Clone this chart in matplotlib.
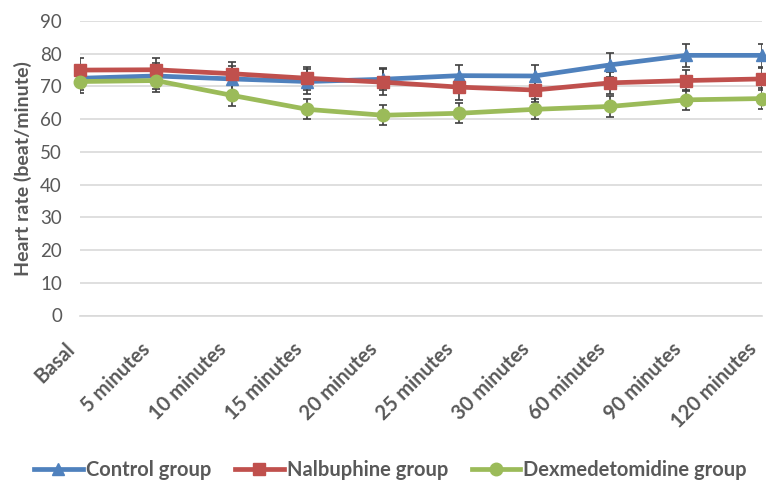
import matplotlib
matplotlib.use("Agg")
import matplotlib.pyplot as plt

# Data
time_points = ["Basal", "5 minutes", "10 minutes", "15 minutes", "20 minutes",
               "25 minutes", "30 minutes", "60 minutes", "90 minutes", "120 minutes"]
control_mean = [72.5, 73.2, 72.3, 71.5, 72.2, 73.3, 73.2, 76.6, 79.5, 79.5]
control_sd = [3.6, 3.9, 3.9, 3.8, 3.4, 3.4, 3.5, 3.6, 3.6, 3.6]
nalbuphine_mean = [75.0, 75.1, 73.9, 72.5, 71.3, 69.8, 68.9, 71.1, 71.8, 72.3]
nalbuphine_sd = [3.8, 3.7, 3.5, 3.5, 3.9, 3.8, 3.6, 3.4, 3.3, 3.3]
dexmed_mean = [71.5, 71.8, 67.3, 63.0, 61.2, 61.8, 63.0, 63.9, 65.9, 66.3]
dexmed_sd = [3.4, 3.4, 3.3, 3.1, 3.0, 3.0, 3.1, 3.1, 3.1, 3.2]

series = [
    ("Control group", control_mean, control_sd, "#4F81BD", "^"),
    ("Nalbuphine group", nalbuphine_mean, nalbuphine_sd, "#C0504D", "s"),
    ("Dexmedetomidine group", dexmed_mean, dexmed_sd, "#9BBB59", "o"),
]

text_color = "#595959"
plt.rcParams["font.family"] = ["Lato", "DejaVu Sans"]

fig = plt.figure(figsize=(7.66, 4.83), dpi=100)
ax = fig.add_axes([80 / 766, 1 - 315.5 / 483, 682 / 766, 294.5 / 483])

x = list(range(len(time_points)))
handles = []
for name, mean, sd, color, marker in series:
    ax.errorbar(x, mean, yerr=sd, fmt="none", ecolor="#404040", elinewidth=1.2,
                capsize=3.2, capthick=1.2, zorder=2)
    line, = ax.plot(x, mean, color=color, linewidth=3.4, marker=marker,
                    markersize=9, label=name, zorder=3, clip_on=False)
    handles.append(line)

ax.set_xlim(0, len(time_points) - 1)
ax.set_ylim(0, 90)
ax.set_yticks(range(0, 91, 10))
ax.set_xticks(x)
ax.set_xticklabels([])
# rotated category labels, anchored at their right end just below each tick
for i, name in zip(x, time_points):
    ax.annotate(name, xy=(i, 0), xycoords=("data", "axes fraction"),
                xytext=(-6, -22), textcoords="offset points",
                rotation=45, ha="right", va="center", rotation_mode="anchor",
                fontsize=14.5, fontweight="bold", color=text_color,
                annotation_clip=False)
ax.tick_params(axis="x", length=0)
ax.tick_params(axis="y", length=0, pad=13, labelsize=13.5, labelcolor=text_color)

ax.grid(axis="y", color="#D9D9D9", linewidth=1.2, zorder=0)
ax.set_axisbelow(True)
for side in ["top", "right", "left"]:
    ax.spines[side].set_visible(False)
ax.spines["bottom"].set_color("#D9D9D9")
ax.spines["bottom"].set_linewidth(1.2)

ax.set_ylabel("Heart rate (beat/minute)", fontsize=14, fontweight="bold",
              color=text_color, labelpad=6)

fig.legend(handles=handles, loc="center", bbox_to_anchor=(0.51, 13 / 483),
           ncol=3, frameon=False, handlelength=2.4, columnspacing=1.2,
           handletextpad=0.15, borderaxespad=0,
           prop={"size": 14.5, "weight": "bold"}, labelcolor=text_color)

fig.savefig("out.png", dpi=100, facecolor="white")
